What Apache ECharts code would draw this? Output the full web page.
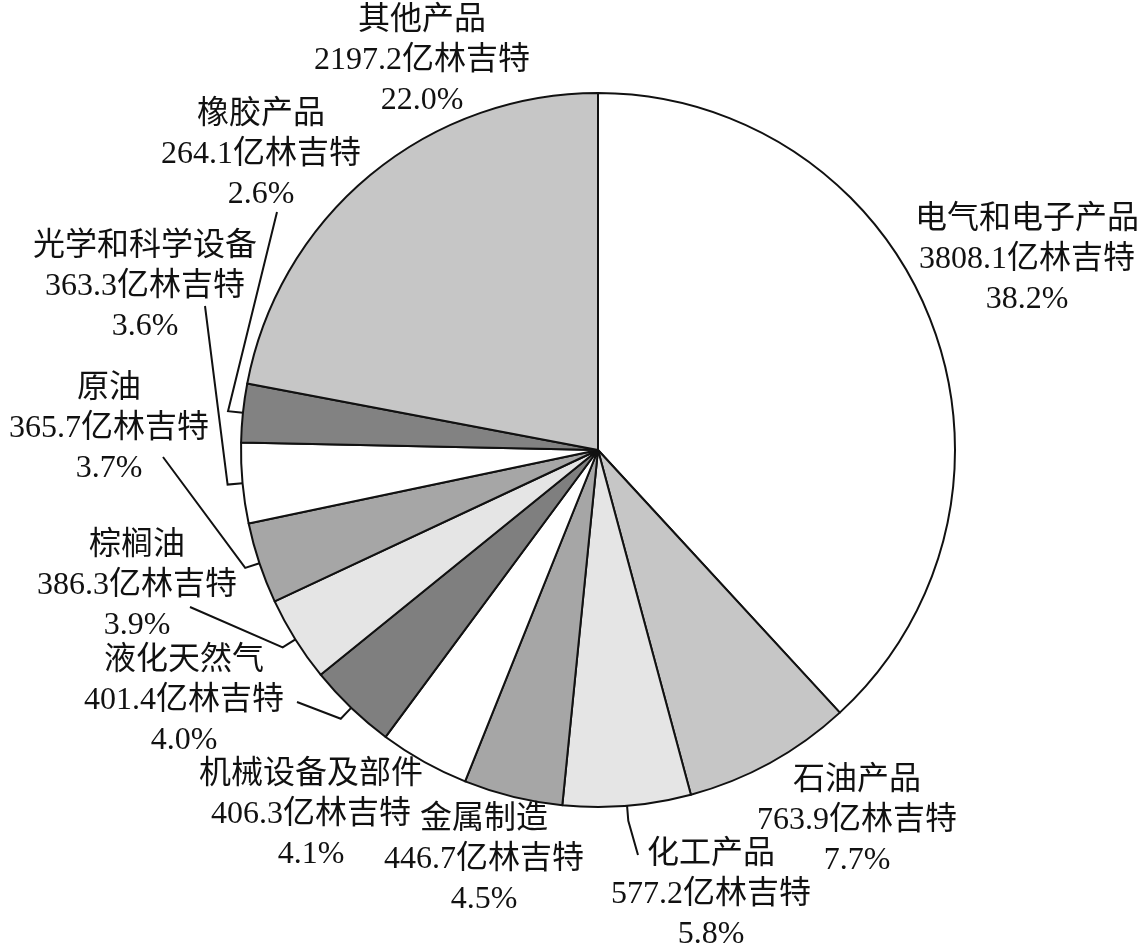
<!DOCTYPE html>
<html>
    <head>
        <meta charset="utf-8">
        <script src="https://cdn.jsdelivr.net/npm/echarts@6/dist/echarts.min.js"></script>
        <style>
            html, body { margin: 0; padding: 0; background: #fff; }
            #main { width: 1144px; height: 945px; }
        </style>
    </head>
    <body>
        <div id="main"></div>
        <script>
            // data, clockwise from 12 o'clock
            var names = ['电气和电子产品', '石油产品', '化工产品', '金属制造', '机械设备及部件',
                '液化天然气', '棕榈油', '原油', '光学和科学设备', '橡胶产品', '其他产品'];
            var values = [3808.1, 763.9, 577.2, 446.7, 406.3, 401.4, 386.3, 365.7, 363.3, 264.1, 2197.2];
            var unit = '亿林吉特';

            // styling / placement
            var fills = ['#ffffff', '#c6c6c6', '#e5e5e5', '#a6a6a6', '#ffffff',
                '#7f7f7f', '#e5e5e5', '#a6a6a6', '#ffffff', '#828282', '#c6c6c6'];
            var labelPos = [[1027, 260], [857, 821], [711, 895], [484, 860], [311, 815],
                [184, 701], [137, 586], [109, 429], [145, 287], [261, 155], [422, 61]];
            // end point of each leader line near its label (null = no line)
            var lineEnd = [null, null, [638, 855], null, null,
                [297, 702], [190, 607], [163, 457], [205, 306], [277, 212], null];

            var font = "'Liberation Serif', 'Times New Roman', 'Noto Sans CJK SC', serif";

            var chart = echarts.init(document.getElementById('main'));

            chart.setOption({
                animation: false,
                backgroundColor: '#fff',
                series: [{
                    type: 'pie',
                    center: [598, 450],
                    radius: 357,
                    startAngle: 90,
                    clockwise: true,
                    avoidLabelOverlap: false,
                    itemStyle: {
                        borderColor: '#111',
                        borderWidth: 2
                    },
                    label: {
                        show: true,
                        position: 'outside',
                        color: '#111',
                        fontFamily: font,
                        fontSize: 32,
                        lineHeight: 40,
                        align: 'center',
                        formatter: function (p) {
                            return p.name + '\n' + p.value + unit + '\n' + p.percent.toFixed(1) + '%';
                        }
                    },
                    labelLine: {
                        length: 15,
                        length2: 10,
                        smooth: false,
                        lineStyle: { color: '#111', width: 2 }
                    },
                    labelLayout: function (p) {
                        var pos = labelPos[p.dataIndex];
                        var out = {
                            x: pos[0],
                            y: pos[1],
                            align: 'center',
                            verticalAlign: 'middle'
                        };
                        var end = lineEnd[p.dataIndex];
                        if (end && p.labelLinePoints) {
                            out.labelLinePoints = [p.labelLinePoints[0], p.labelLinePoints[1], end];
                        }
                        return out;
                    },
                    data: names.map(function (n, i) {
                        return {
                            name: n,
                            value: values[i],
                            itemStyle: { color: fills[i] },
                            labelLine: { show: lineEnd[i] !== null }
                        };
                    })
                }]
            });
        </script>
    </body>
</html>
